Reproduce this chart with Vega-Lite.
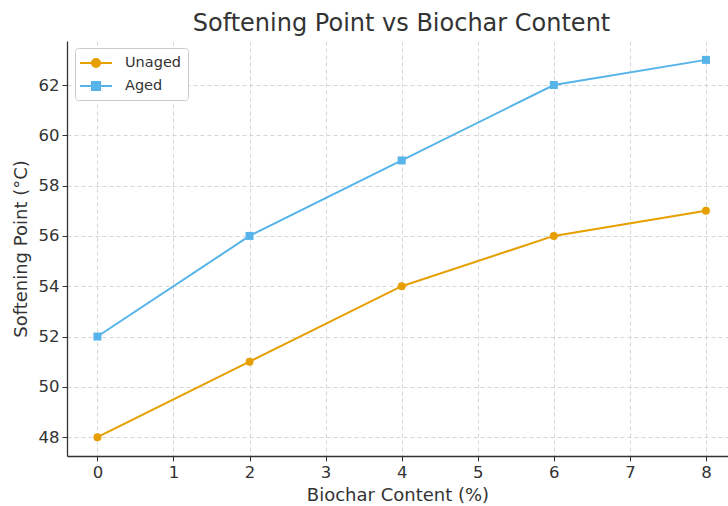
{
  "$schema": "https://vega.github.io/schema/vega-lite/v6.json",
  "autosize": {"type": "none"},
  "padding": {"left": 67, "top": 41, "right": 0, "bottom": 50},
  "width": 661,
  "height": 415,
  "background": "white",
  "title": {
    "text": "Softening Point vs Biochar Content",
    "fontSize": 24,
    "font": "DejaVu Sans",
    "fontWeight": "normal",
    "color": "#333333",
    "offset": 5,
    "dx": 4
  },
  "config": {
    "font": "DejaVu Sans",
    "view": {"stroke": null},
    "axis": {
      "labelFont": "DejaVu Sans",
      "labelFontSize": 16.5,
      "labelColor": "#333333",
      "titleFont": "DejaVu Sans",
      "titleFontSize": 18,
      "titleFontWeight": "normal",
      "titleColor": "#333333",
      "domainColor": "#333333",
      "domainWidth": 1.3,
      "tickColor": "#333333",
      "tickSize": 5,
      "tickWidth": 1,
      "gridColor": "#cccccc",
      "gridDash": [4, 3],
      "gridWidth": 0.8,
      "labelPadding": 3
    }
  },
  "data": {
    "values": [
      {"biochar": 0, "sp": 48, "series": "Unaged"},
      {"biochar": 2, "sp": 51, "series": "Unaged"},
      {"biochar": 4, "sp": 54, "series": "Unaged"},
      {"biochar": 6, "sp": 56, "series": "Unaged"},
      {"biochar": 8, "sp": 57, "series": "Unaged"},
      {"biochar": 0, "sp": 52, "series": "Aged"},
      {"biochar": 2, "sp": 56, "series": "Aged"},
      {"biochar": 4, "sp": 59, "series": "Aged"},
      {"biochar": 6, "sp": 62, "series": "Aged"},
      {"biochar": 8, "sp": 63, "series": "Aged"}
    ]
  },
  "encoding": {
    "x": {
      "field": "biochar",
      "type": "quantitative",
      "title": "Biochar Content (%)",
      "scale": {"domain": [-0.4, 8.29], "nice": false, "zero": false},
      "axis": {"values": [0, 1, 2, 3, 4, 5, 6, 7, 8], "format": "d", "titlePadding": 6}
    },
    "y": {
      "field": "sp",
      "type": "quantitative",
      "title": "Softening Point (°C)",
      "scale": {"domain": [47.25, 63.75], "nice": false, "zero": false},
      "axis": {"values": [48, 50, 52, 54, 56, 58, 60, 62], "titlePadding": 8}
    },
    "color": {
      "field": "series",
      "type": "nominal",
      "scale": {"domain": ["Unaged", "Aged"], "range": ["#E69F00", "#56B4E9"]},
      "legend": {
        "title": null,
        "orient": "none",
        "legendX": 8,
        "legendY": 7,
        "padding": 6,
        "fillColor": "white",
        "strokeColor": "#cccccc",
        "cornerRadius": 3,
        "labelFontSize": 14.5,
        "labelColor": "#333333",
        "labelFont": "DejaVu Sans",
        "rowPadding": 6,
        "symbolSize": 256,
        "symbolOffset": 6,
        "labelOffset": 20,
        "encode": {
          "symbols": {
            "update": {
              "shape": {"signal": "datum.value == 'Unaged' ? 'M-2,0H2M-0.5,0A0.5,0.5 0 1 1 0.5,0A0.5,0.5 0 1 1 -0.5,0Z' : 'M-2,0H2M-0.5,-0.5H0.5V0.5H-0.5Z'"},
              "fill": {"signal": "datum.value == 'Unaged' ? '#E69F00' : '#56B4E9'"},
              "stroke": {"signal": "datum.value == 'Unaged' ? '#E69F00' : '#56B4E9'"},
              "strokeWidth": {"value": 2},
              "opacity": {"value": 1},
              "fillOpacity": {"value": 1}
            }
          }
        }
      }
    }
  },
  "layer": [
    {"mark": {"type": "line", "strokeWidth": 2}},
    {
      "transform": [{"filter": "datum.series == 'Unaged'"}],
      "mark": {"type": "point", "filled": true, "opacity": 1, "size": 64, "shape": "circle"}
    },
    {
      "transform": [{"filter": "datum.series == 'Aged'"}],
      "mark": {"type": "point", "filled": true, "opacity": 1, "size": 64, "shape": "square"}
    }
  ]
}
